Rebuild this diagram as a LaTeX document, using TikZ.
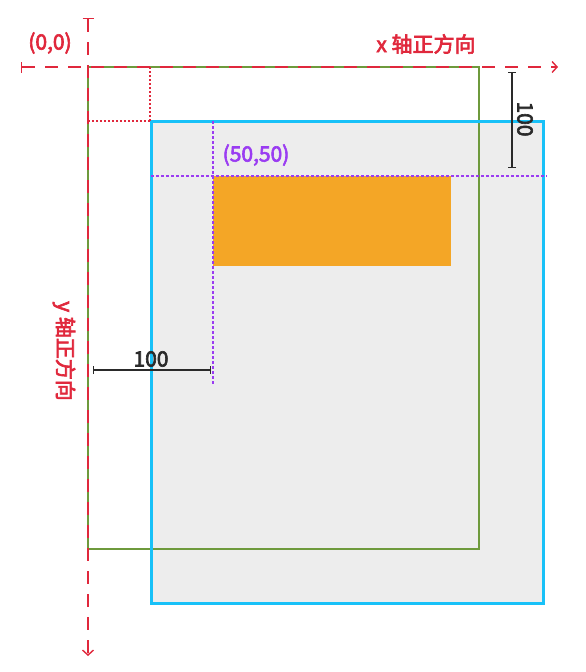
\documentclass[tikz,border=0pt]{standalone}
\usepackage{fontspec}
\setmainfont{Noto Sans CJK SC}
\newfontfamily\medfont[FakeBold=3]{Noto Sans CJK SC}
\usetikzlibrary{arrows.meta}
\definecolor{axred}{HTML}{E0283C}
\definecolor{boxgreen}{HTML}{6E9A3C}
\definecolor{boxblue}{HTML}{18C1F8}
\definecolor{boxgray}{HTML}{EDEDED}
\definecolor{boxorange}{HTML}{F4A626}
\definecolor{guidepurple}{HTML}{9A3CF2}
\definecolor{dimblack}{HTML}{2A2A2A}
\tikzset{
  axis/.style={draw=axred, line width=1.7pt, dash pattern=on 13pt off 10pt,
    arrows={Bar[width=11pt,line width=1.4pt]-Straight Barb[length=5pt,width=11pt,line width=1.4pt]}},
  reddot/.style={draw=axred, line width=1.3pt, dash pattern=on 2pt off 2pt},
  purpledot/.style={draw=guidepurple, line width=1.4pt, dash pattern=on 2.5pt off 2.5pt},
  dimline/.style={draw=dimblack, line width=1.3pt, {Bar[width=8pt,line width=1.3pt]}-{Bar[width=8pt,line width=1.3pt]}},
  lbl/.style={font=\fontsize{21}{24}\selectfont\medfont, inner sep=0pt},
  redlabel/.style={lbl, text=axred},
  purplelabel/.style={lbl, text=guidepurple},
  dimlabel/.style={lbl, text=dimblack}
}
\begin{document}
\begin{tikzpicture}[x=1pt,y=-1pt]
\useasboundingbox (0,0) rectangle (586,672);
% coordinates
\coordinate (gTL) at (88,67);
\coordinate (gBR) at (479,549);
\coordinate (bTL) at (151,121);
\coordinate (bBR) at (543,603);
\coordinate (oTL) at (213,176);
\coordinate (oBR) at (451,266);
% blue box fill
\fill[boxgray] (bTL) rectangle (bBR);
% green box
\draw[boxgreen, line width=1.5pt] (gTL) rectangle (gBR);
% blue box border
\draw[boxblue, line width=3pt] (bTL) rectangle (bBR);
% orange box
\fill[boxorange] (oTL) rectangle (oBR);
% red dotted guides
\coordinate (rTop) at (150,67);
\coordinate (rCorner) at (150,121);
\coordinate (rLeft) at (88,121);
\draw[reddot] (rTop) -- (rCorner);
\draw[reddot] (rLeft) -- (rCorner);
% purple dotted guides
\coordinate (pvTop) at (213,121);
\coordinate (pvBot) at (213,385);
\coordinate (phL) at (151,176);
\coordinate (phR) at (547,176);
\draw[purpledot] (pvTop) -- (pvBot);
\draw[purpledot] (phL) -- (phR);
% axes
\coordinate (xStart) at (21,67);
\coordinate (xEnd) at (558,67);
\coordinate (yStart) at (88,18);
\coordinate (yEnd) at (88,656);
\draw[axis] (xStart) -- (xEnd);
\draw[axis] (yStart) -- (yEnd);
% dimensions
\coordinate (dhL) at (93,370);
\coordinate (dhR) at (211,370);
\draw[dimline] (dhL) -- (dhR);
\coordinate (dvT) at (512,72);
\coordinate (dvB) at (512,168);
\draw[dimline] (dvT) -- (dvB);
% labels
\node[redlabel] (origin) at (50,43) {(0,0)};
\node[redlabel] (xlab) at (426,44) {x 轴正方向};
\node[redlabel, rotate=-90] (ylab) at (64,351) {y 轴正方向};
\node[purplelabel] (pt) at (256,155) {(50,50)};
\node[dimlabel] (d1) at (151,359) {100};
\node[dimlabel, rotate=-90] (d2) at (525,119) {100};
\end{tikzpicture}
\end{document}
